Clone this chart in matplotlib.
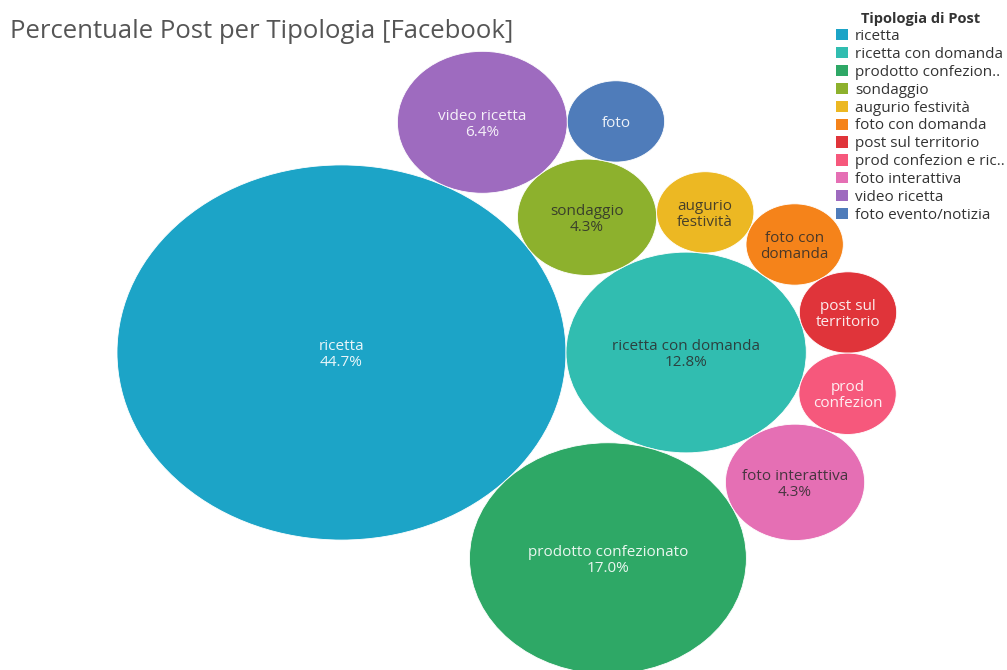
import math
import matplotlib
matplotlib.use("Agg")
import matplotlib.pyplot as plt
from matplotlib.patches import Circle, Patch
from matplotlib.font_manager import FontProperties

# ---- data -------------------------------------------------------------
categories = [
    "ricetta", "ricetta con domanda", "prodotto confezionato", "sondaggio",
    "augurio festività", "foto con domanda", "post sul territorio",
    "prod confezion e ricetta", "foto interattiva", "video ricetta",
    "foto evento/notizia",
]
percent = [44.7, 12.8, 17.0, 4.3, 2.1, 2.1, 2.1, 2.1, 4.3, 6.4, 2.1]
legend_labels = [
    "ricetta", "ricetta con domanda", "prodotto confezion..", "sondaggio",
    "augurio festività", "foto con domanda", "post sul territorio",
    "prod confezion e ric..", "foto interattiva", "video ricetta",
    "foto evento/notizia",
]
bubble_labels = [
    "ricetta", "ricetta con domanda", "prodotto confezionato", "sondaggio",
    "augurio\nfestività", "foto con\ndomanda", "post sul\nterritorio",
    "prod\nconfezion", "foto interattiva", "video ricetta", "foto",
]

# ---- style ------------------------------------------------------------
colors = [
    "#1ca4c7", "#31bdb0", "#2ea866", "#8db12d", "#ecb823", "#f5831a",
    "#e0343a", "#f6587c", "#e56fb4", "#9e6bbf", "#4f7cba",
]
dark_text = [False, True, False, True, True, True, False, False, True, False, False]
FONT = "Open Sans"

# ---- packed layout: each bubble tangent to two already placed ones ----
radius = {c: math.sqrt(p) for c, p in zip(categories, percent)}
chain = [
    ("prodotto confezionato", "ricetta con domanda", "ricetta"),
    ("sondaggio", "ricetta", "ricetta con domanda"),
    ("video ricetta", "ricetta", "sondaggio"),
    ("foto evento/notizia", "video ricetta", "sondaggio"),
    ("augurio festività", "sondaggio", "ricetta con domanda"),
    ("foto con domanda", "augurio festività", "ricetta con domanda"),
    ("post sul territorio", "foto con domanda", "ricetta con domanda"),
    ("prod confezion e ricetta", "post sul territorio", "ricetta con domanda"),
    ("foto interattiva", "prod confezion e ricetta", "prodotto confezionato"),
]


def tangent_left(pa, ra, pb, rb, r):
    """Centre of a circle of radius r touching A and B, left of A->B."""
    dx, dy = pb[0] - pa[0], pb[1] - pa[1]
    d = math.hypot(dx, dy)
    da, db = ra + r, rb + r
    t = (da ** 2 - db ** 2 + d ** 2) / (2 * d)
    h = math.sqrt(max(da ** 2 - t ** 2, 0.0))
    ux, uy = dx / d, dy / d
    return (pa[0] + t * ux - h * uy, pa[1] + t * uy + h * ux)


centre = {"ricetta": (0.0, 0.0)}
centre["ricetta con domanda"] = (radius["ricetta"] + radius["ricetta con domanda"], 0.0)
for name, a, b in chain:
    centre[name] = tangent_left(centre[a], radius[a], centre[b], radius[b], radius[name])

# ---- figure -----------------------------------------------------------
W, H = 1007, 670
fig = plt.figure(figsize=(W / 100, H / 100), dpi=100)
ax = fig.add_axes([0, 0, 1, 1])
ax.set_axis_off()

px_x = 33.58            # pixels per unit horizontally
px_y = px_x / 1.197     # bubbles are drawn slightly flattened
cx0, cy0 = 341.5, 352.5  # pixel position of the largest bubble's centre
ax.set_xlim(-cx0 / px_x, (W - cx0) / px_x)
ax.set_ylim(-(H - cy0) / px_y, cy0 / px_y)
ax.set_aspect("auto")
label_shift = 2.0 / px_y  # nudge labels a couple of pixels down

for i, name in enumerate(categories):
    x, y = centre[name]
    ax.add_patch(Circle((x, y), radius[name], facecolor=colors[i],
                        edgecolor="white", linewidth=0.6, zorder=2))
    text = bubble_labels[i]
    if percent[i] > 3:
        text += f"\n{percent[i]:.1f}%"
    ax.text(x, y - label_shift, text, ha="center", va="center", fontsize=11,
            family=FONT, linespacing=1.12, zorder=3,
            color="#2b2b2b" if dark_text[i] else "#ffffff",
            alpha=0.85 if dark_text[i] else 0.9)

fig.text(10 / W, 1 - 31 / H, "Percentuale Post per Tipologia [Facebook]",
         ha="left", va="center", fontsize=18.5, family=FONT,
         color="#555555")

handles = [Patch(facecolor=c, edgecolor="none") for c in colors]
leg = fig.legend(handles, legend_labels, loc="upper left",
                 bbox_to_anchor=(833 / W, 1 - 9 / H), frameon=False,
                 title="Tipologia di Post",
                 prop={"family": FONT, "size": 11},
                 handlelength=0.75, handleheight=0.75, handletextpad=0.5,
                 labelspacing=0.19, borderaxespad=0, borderpad=0.2)
leg.get_title().set_fontproperties(FontProperties(family=FONT, size=10.5, weight="bold"))
leg.get_title().set_color("#333333")
for t in leg.get_texts():
    t.set_color("#333333")

fig.savefig("out.png", dpi=100, facecolor="white")
